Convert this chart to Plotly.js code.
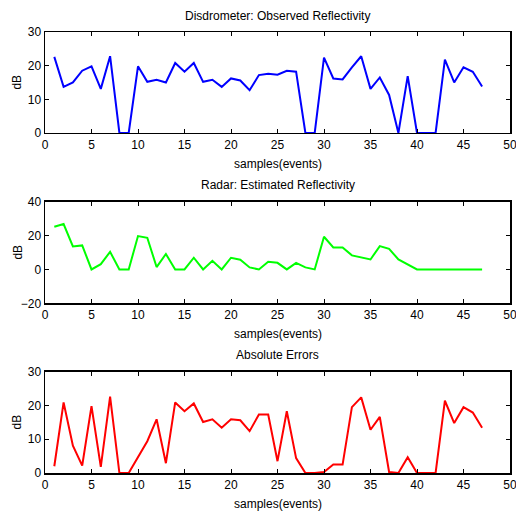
<!DOCTYPE html>
<html>
<head>
<meta charset="utf-8">
<script src="https://cdn.plot.ly/plotly-3.0.1.min.js"></script>
<style>html,body{margin:0;padding:0;background:#fff;}#chart{width:516px;height:515px;}</style>
</head>
<body>
<div id="chart"></div>
<script>
const samples = Array.from({length: 47}, (_, i) => i + 1);
const observed = [22.6,13.7,15.0,18.5,19.8,13.1,22.8,0,0,19.8,15.2,15.8,15.0,20.8,18.2,20.8,15.2,15.8,13.7,16.2,15.6,12.7,17.2,17.6,17.3,18.5,18.2,0,0,22.4,16.2,15.9,19.5,22.8,13.1,16.5,11.3,0,16.9,0,0,0,21.8,15.0,19.5,18.2,13.8];
const estimated = [25.2,26.8,13.6,14.2,0,3.1,10.4,0,0,19.7,18.7,1.4,9.1,0,0,6.9,0,5.1,0,6.9,5.7,1.2,0,4.5,3.9,0,3.9,1.2,0,19.3,13.0,13.0,8.3,7.1,5.9,13.8,12.2,5.9,3.1,0,0,0,0,0,0,0,0];
const absErrors = [2.0,20.9,8.1,2.2,19.8,1.8,22.6,0,0,4.7,9.4,15.9,2.9,20.9,18.3,20.6,15.1,15.9,13.4,15.9,15.6,12.4,17.3,17.3,3.5,18.3,4.4,0,0,0.3,2.5,2.5,19.5,22.4,12.8,16.6,0.3,0,4.7,0,0,0,21.4,14.8,19.5,17.9,13.4];
const titles = ["Disdrometer: Observed Reflectivity", "Radar: Estimated Reflectivity", "Absolute Errors"];
const xLabel = "samples(events)";
const yLabel = "dB";

const font = {family: "Liberation Sans, Arial, sans-serif", size: 12, color: "#000"};
const traces = [
  {x: samples, y: observed, type: "scatter", mode: "lines", line: {color: "#0000FF", width: 2}, xaxis: "x", yaxis: "y"},
  {x: samples, y: estimated, type: "scatter", mode: "lines", line: {color: "#00FF00", width: 2}, xaxis: "x2", yaxis: "y2"},
  {x: samples, y: absErrors, type: "scatter", mode: "lines", line: {color: "#FF0000", width: 2}, xaxis: "x3", yaxis: "y3"}
];

function xa(anchor) {
  return {anchor: anchor, range: [0, 50], tickvals: [0,5,10,15,20,25,30,35,40,45,50], ticks: "inside", ticklen: 4,
    tickcolor: "#000", showline: true, linecolor: "#000", linewidth: 1.5, mirror: "ticks", showgrid: false,
    zeroline: false, tickfont: font, domain: [0, 1], ticklabeloverflow: "allow"};
}
function ya(anchor, range, ticks, domain) {
  return {anchor: anchor, range: range, tickvals: ticks, ticks: "inside", ticklen: 4, tickcolor: "#000",
    showline: true, linecolor: "#000", linewidth: 1.5, mirror: "ticks", showgrid: false, zeroline: false,
    tickfont: font, domain: domain, ticklabeloverflow: "allow"};
}
const doms = [[0.771, 1], [0.3848, 0.6152], [0, 0.2297]];
const titleY = [1.036, 0.653, 0.2676];
const xLabY = [0.701, 0.3145, -0.07];
const ann = [];
for (let i = 0; i < 3; i++) {
  ann.push({text: titles[i], xref: "paper", yref: "paper", x: 0.5, y: titleY[i], showarrow: false, font: font, xanchor: "center", yanchor: "middle"});
  ann.push({text: xLabel, xref: "paper", yref: "paper", x: 0.5, y: xLabY[i], showarrow: false, font: font, xanchor: "center", yanchor: "middle"});
  ann.push({text: yLabel, xref: "paper", yref: "paper", x: -0.06, xanchor: "center", y: (doms[i][0] + doms[i][1]) / 2, yanchor: "middle", textangle: -90, showarrow: false, font: font});
}
const layout = {
  width: 516, height: 515, showlegend: false,
  margin: {l: 45, r: 6, t: 32, b: 42},
  paper_bgcolor: "#fff", plot_bgcolor: "#fff", font: font,
  xaxis: xa("y"), xaxis2: xa("y2"), xaxis3: xa("y3"),
  yaxis: ya("x", [0, 30], [0,10,20,30], doms[0]),
  yaxis2: ya("x2", [-20, 40], [-20,0,20,40], doms[1]),
  yaxis3: ya("x3", [0, 30], [0,10,20,30], doms[2]),
  annotations: ann
};
Plotly.newPlot("chart", traces, layout, {displayModeBar: false, staticPlot: true});
</script>
</body>
</html>
